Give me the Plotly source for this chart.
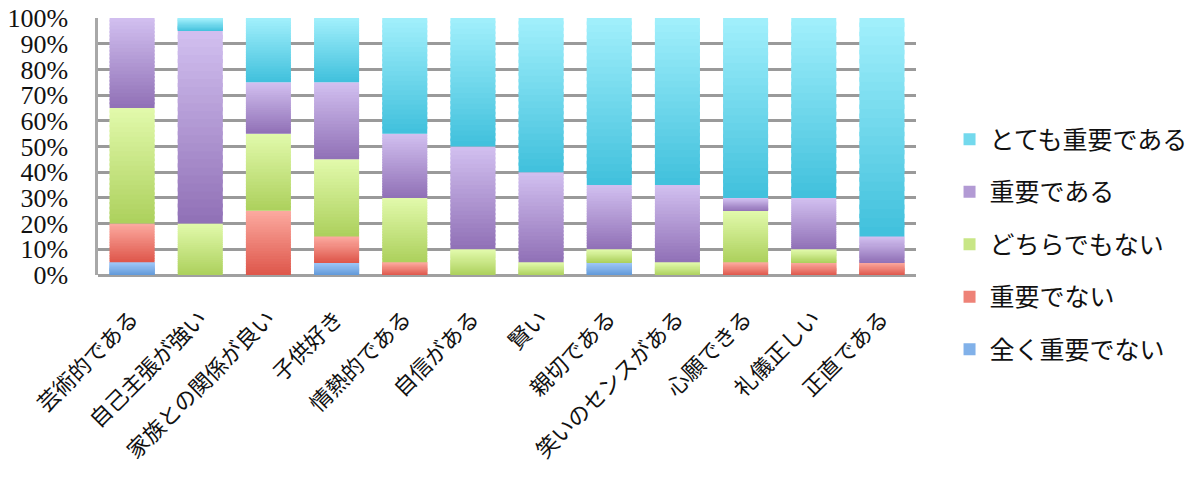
import plotly.graph_objects as go

# Qualities rated by respondents (x-axis categories)
categories = [
    "芸術的である", "自己主張が強い", "家族との関係が良い", "子供好き",
    "情熱的である", "自信がある", "賢い", "親切である",
    "笑いのセンスがある", "心願できる", "礼儀正しい", "正直である",
]

# Share of answers per rating (%), stacked bottom to top
not_at_all = [5, 0, 0, 5, 0, 0, 0, 5, 0, 0, 0, 0]          # 全く重要でない
not_important = [15, 0, 25, 10, 5, 0, 0, 0, 0, 5, 5, 5]     # 重要でない
neutral = [45, 20, 30, 30, 25, 10, 5, 5, 5, 20, 5, 0]       # どちらでもない
important = [35, 75, 20, 30, 25, 40, 35, 25, 30, 5, 20, 10] # 重要である
very_important = [0, 5, 25, 25, 45, 50, 60, 65, 65, 70, 70, 85]  # とても重要である

y_ticks = [0, 10, 20, 30, 40, 50, 60, 70, 80, 90, 100]
y_tick_text = [f"{v}%" for v in y_ticks]

# (legend name, values, colour at segment top, colour at segment base)
series = [
    ("全く重要でない", not_at_all, (160, 200, 248), (96, 152, 216)),
    ("重要でない", not_important, (252, 170, 160), (222, 86, 74)),
    ("どちらでもない", neutral, (226, 250, 172), (172, 208, 92)),
    ("重要である", important, (210, 192, 240), (144, 112, 182)),
    ("とても重要である", very_important, (162, 240, 252), (64, 192, 220)),
]

# each segment is painted as a stack of thin bands: light at its top, darker at its base
N_BANDS = 24


def mix(top, bottom, t):
    r, g, b = (round(bottom[i] + (top[i] - bottom[i]) * t) for i in range(3))
    return f"rgb({r},{g},{b})"


# cumulative base of every series
bases = []
running = [0.0] * len(categories)
for _, values, _, _ in series:
    bases.append(running)
    running = [r + v for r, v in zip(running, values)]

fig = go.Figure()
n_series = len(series)
for idx, (name, values, top_rgb, bottom_rgb) in enumerate(series):
    base = bases[idx]
    for k in range(N_BANDS):
        t = (k + 0.5) / N_BANDS
        # bands below the top one reach halfway into the next band so no seams show
        extra = 0.5 if k < N_BANDS - 1 else 0.0
        fig.add_trace(go.Bar(
            x=categories,
            y=[v * (1 + extra) / N_BANDS for v in values],
            base=[b0 + v * k / N_BANDS for b0, v in zip(base, values)],
            name=name,
            legendgroup=name,
            legendrank=n_series - idx,
            showlegend=(k == N_BANDS // 2),
            marker=dict(color=mix(top_rgb, bottom_rgb, t), line=dict(width=0)),
            width=0.66,
            hoverinfo="skip",
        ))

fig.update_layout(
    width=1204,
    height=479,
    margin=dict(l=98, r=288, t=18, b=204, autoexpand=False),
    barmode="overlay",
    plot_bgcolor="white",
    paper_bgcolor="white",
    font=dict(family="Noto Sans CJK JP", color="#111"),
    legend=dict(
        x=1.041, xanchor="left",
        y=0.119, yanchor="middle",
        traceorder="grouped",
        tracegroupgap=17,
        font=dict(family="Noto Sans CJK JP", size=25, color="#111"),
        maxheight=460,
    ),
)

fig.update_xaxes(
    tickangle=-45,
    tickfont=dict(family="Noto Sans CJK JP", size=22, color="#111"),
    showline=False,
    showgrid=False,
    ticks="outside",
    ticklen=21,
    tickcolor="rgba(0,0,0,0)",
    automargin=False,
    range=[-0.5, len(categories) - 0.5],
)

fig.update_yaxes(
    range=[0, 100],
    tickvals=y_ticks,
    ticktext=y_tick_text,
    tickfont=dict(family="Liberation Serif", size=26, color="#111"),
    showgrid=True,
    gridcolor="#9a9a9a",
    gridwidth=2.5,
    showline=True,
    linecolor="#a8a8a8",
    linewidth=2.5,
    ticks="outside",
    ticklen=0,
    tickcolor="rgba(0,0,0,0)",
    ticklabelstandoff=22,
    zeroline=True,
    zerolinecolor="#a0a0a0",
    zerolinewidth=3,
    automargin=False,
    layer="below traces",
)

fig.write_html("out.html")
